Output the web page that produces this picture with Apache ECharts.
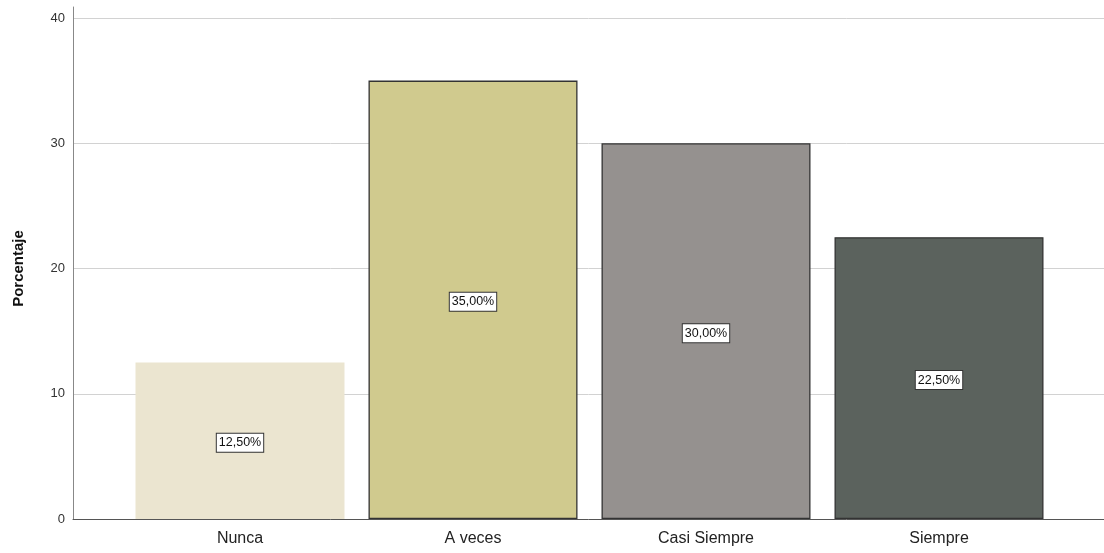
<!DOCTYPE html>
<html>
<head>
<meta charset="utf-8">
<script src="https://cdn.jsdelivr.net/npm/echarts@6/dist/echarts.min.js"></script>
<style>
  html, body { margin: 0; padding: 0; background: #fff; }
  #chart { width: 1104px; height: 553px; }
</style>
</head>
<body>
<div id="chart"></div>
<script>
// Response categories and their share (%)
var categories = ['Nunca', 'A veces', 'Casi Siempre', 'Siempre'];
var percentages = [12.5, 35.0, 30.0, 22.5];
var barColors = ['#EBE5D0', '#D0CA8E', '#95918F', '#5B625D'];
var borderColors = ['#EBE5D0', '#333333', '#333333', '#333333'];
var yTicks = [0, 10, 20, 30, 40];

var chart = echarts.init(document.getElementById('chart'));

var barData = percentages.map(function (v, i) {
  return {
    value: v,
    itemStyle: { color: barColors[i], borderColor: borderColors[i], borderWidth: 1.3 }
  };
});

chart.setOption({
  animation: false,
  grid: [
    // vertical axis line, extends a little above the top tick
    { left: 73, right: 0, top: 7, bottom: 34 },
    // value scale: tick labels, gridlines, baseline
    { left: 73, right: 0, top: 18, bottom: 34 },
    // bars
    { left: 123.5, right: 48.5, top: 18, bottom: 34 }
  ],
  xAxis: [
    { gridIndex: 0, type: 'value', show: false },
    {
      gridIndex: 1, type: 'category', data: [''],
      axisLine: { show: true, lineStyle: { color: '#555555', width: 1 } },
      axisTick: { show: false }, axisLabel: { show: false }
    },
    {
      gridIndex: 2, type: 'category', data: categories,
      axisLine: { show: false }, axisTick: { show: false },
      axisLabel: { color: '#222222', fontSize: 16, fontFamily: 'Liberation Sans, Arial, sans-serif', margin: 12 }
    }
  ],
  yAxis: [
    {
      gridIndex: 0, type: 'value', min: 0, max: 1,
      axisLine: { show: true, onZero: false, lineStyle: { color: '#888888', width: 1 } },
      axisTick: { show: false }, axisLabel: { show: false }, splitLine: { show: false }
    },
    {
      gridIndex: 1, type: 'value', min: yTicks[0], max: yTicks[yTicks.length - 1], interval: 10,
      name: 'Porcentaje', nameLocation: 'middle', nameGap: 47,
      nameTextStyle: { fontSize: 15, fontWeight: 'bold', color: '#111111', fontFamily: 'Liberation Sans, Arial, sans-serif' },
      axisLine: { show: false },
      axisTick: { show: false },
      axisLabel: { color: '#333333', fontSize: 13, margin: 8, fontFamily: 'Liberation Sans, Arial, sans-serif' },
      splitLine: { show: true, lineStyle: { color: '#D2D2D2', width: 1 } }
    },
    {
      gridIndex: 2, type: 'value', min: yTicks[0], max: yTicks[yTicks.length - 1], interval: 10,
      show: false, splitLine: { show: false }
    }
  ],
  series: [
    {
      type: 'bar', xAxisIndex: 2, yAxisIndex: 2,
      data: barData, barWidth: 209,
      label: {
        show: true, position: 'inside', offset: [0, 2],
        formatter: function (p) { return p.value.toFixed(2).replace('.', ',') + '%'; },
        color: '#111111', fontSize: 12.5, fontFamily: 'Liberation Sans, Arial, sans-serif',
        backgroundColor: '#ffffff', borderColor: '#333333', borderWidth: 1,
        padding: [3, 2, 2, 2]
      }
    }
  ]
});
</script>
</body>
</html>
